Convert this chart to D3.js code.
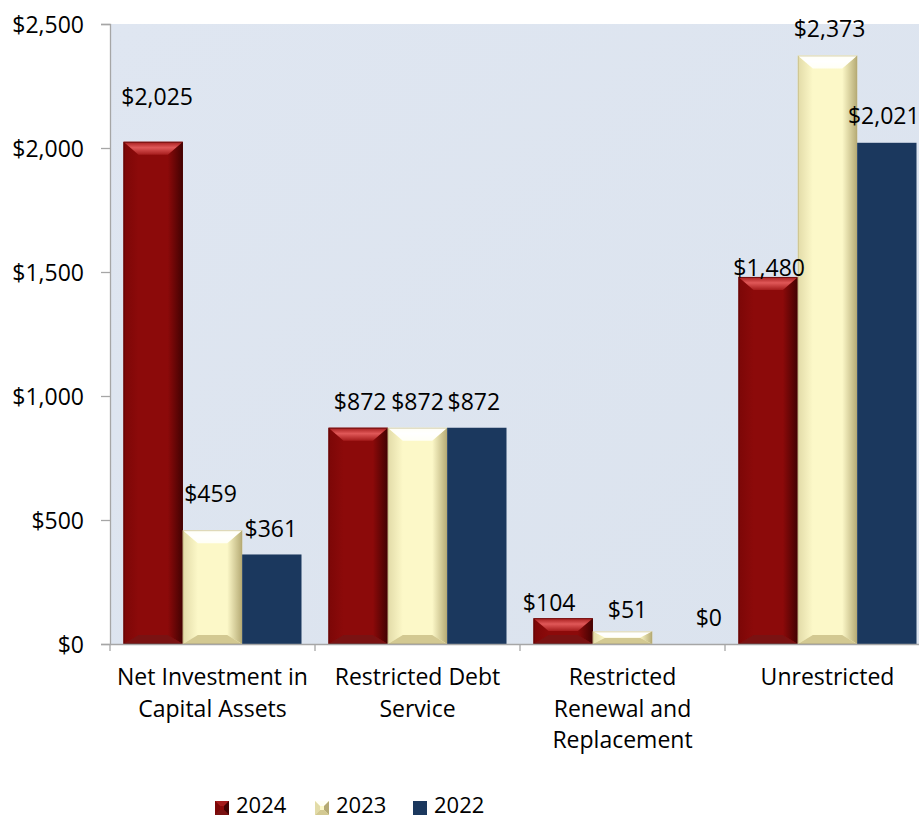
<!DOCTYPE html>
<html>
<head>
<meta charset="utf-8">
<script src="https://cdn.jsdelivr.net/npm/d3@7"></script>
<style>
  html, body { margin: 0; padding: 0; background: #ffffff; }
  svg { display: block; }
  text { font-family: "Open Sans", Lato, sans-serif; fill: #000; }
</style>
</head>
<body>
<svg id="chart" width="919" height="820"></svg>
<script>
// ---------- data ----------
const categories = [
  "Net Investment in Capital Assets",
  "Restricted Debt Service",
  "Restricted Renewal and Replacement",
  "Unrestricted"
];
const categoryLines = [
  ["Net Investment in", "Capital Assets"],
  ["Restricted Debt", "Service"],
  ["Restricted", "Renewal and", "Replacement"],
  ["Unrestricted"]
];
const years = ["2024", "2023", "2022"];
const values2024 = [2025, 872, 104, 1480];
const values2023 = [459, 872, 51, 2373];
const values2022 = [361, 872, 0, 2021];
const yTicks = [0, 500, 1000, 1500, 2000, 2500];

// label nudges (style only, px) to mimic the manually placed data labels
const labelNudge2024 = [[4, -19], [2, 0], [-14, 11], [1, 17]];
const labelNudge2023 = [[-2, -10], [0, 0], [5, 5], [2, -1]];
const labelNudge2022 = [[-1, 0], [-3, 0], [27, 0], [-3, -1]];

const seriesValues = { "2024": values2024, "2023": values2023, "2022": values2022 };
const seriesNudges = { "2024": labelNudge2024, "2023": labelNudge2023, "2022": labelNudge2022 };

// ---------- layout ----------
const svg = d3.select("#chart");
const plot = { left: 110, right: 930, top: 24, bottom: 644 };

const x0 = d3.scaleBand().domain(categories).range([plot.left, plot.right]).padding(0);
const groupPad = 13.5;
const x1 = d3.scaleBand().domain(years).range([groupPad, x0.bandwidth() - groupPad]).padding(0);
const y = d3.scaleLinear().domain([0, 2500]).range([plot.bottom, plot.top]);

const fmt = v => "$" + d3.format(",")(v);

const defs = svg.append("defs");

const bgGrad = defs.append("linearGradient").attr("id", "bgGrad")
  .attr("x1", 0).attr("y1", 0).attr("x2", 1).attr("y2", 1);
bgGrad.append("stop").attr("offset", "0%").attr("stop-color", "#dfe6f1");
bgGrad.append("stop").attr("offset", "100%").attr("stop-color", "#dbe3ee");

svg.append("rect")
  .attr("x", plot.left).attr("y", plot.top)
  .attr("width", plot.right - plot.left).attr("height", plot.bottom - plot.top)
  .attr("fill", "url(#bgGrad)");

const palettes = {
  "2024": { main: "#8c0a0a", top1: "#a51c1c", top2: "#e05858", left: "#7c0707", right: "#420202", bottom: "#7a1212", bevel: true },
  "2023": { main: "#fcf8c8", top1: "#fffff6", top2: "#ffffff", left: "#e2dba8", right: "#b5aa74", bottom: "#d3c992", bevel: true },
  "2022": { main: "#1b385e", bevel: false }
};

Object.entries(palettes).forEach(([k, p]) => {
  if (!p.bevel) return;
  const g = defs.append("linearGradient").attr("id", "top" + k)
    .attr("x1", 0).attr("y1", 0).attr("x2", 0).attr("y2", 1);
  g.append("stop").attr("offset", "0%").attr("stop-color", p.top1);
  g.append("stop").attr("offset", "45%").attr("stop-color", p.top2);
  g.append("stop").attr("offset", "100%").attr("stop-color", p.top1);
  const r = defs.append("linearGradient").attr("id", "right" + k)
    .attr("x1", 0).attr("y1", 0).attr("x2", 1).attr("y2", 0);
  r.append("stop").attr("offset", "0%").attr("stop-color", p.main);
  r.append("stop").attr("offset", "100%").attr("stop-color", p.right);
  const l = defs.append("linearGradient").attr("id", "left" + k)
    .attr("x1", 0).attr("y1", 0).attr("x2", 1).attr("y2", 0);
  l.append("stop").attr("offset", "0%").attr("stop-color", p.left);
  l.append("stop").attr("offset", "100%").attr("stop-color", p.main);
});

function drawBar(g, key, x, yTop, w, h) {
  const p = palettes[key];
  if (h <= 0) return;
  g.append("rect").attr("x", x).attr("y", yTop).attr("width", w).attr("height", h).attr("fill", p.main);
  if (!p.bevel) return;
  const bt = Math.min(13, h / 2);
  const bb = Math.min(9, h / 2);
  const bs = Math.min(15, w / 2, h / 2 + 6);
  const pts = a => a.map(q => q.join(",")).join(" ");
  g.append("polygon").attr("points", pts([[x, yTop], [x + bs, yTop + bt], [x + bs, yTop + h - bb], [x, yTop + h]]))
    .attr("fill", "url(#left" + key + ")");
  g.append("polygon").attr("points", pts([[x + w, yTop], [x + w - bs, yTop + bt], [x + w - bs, yTop + h - bb], [x + w, yTop + h]]))
    .attr("fill", "url(#right" + key + ")");
  g.append("polygon").attr("points", pts([[x, yTop + h], [x + bs, yTop + h - bb], [x + w - bs, yTop + h - bb], [x + w, yTop + h]]))
    .attr("fill", p.bottom);
  g.append("polygon").attr("points", pts([[x, yTop], [x + w, yTop], [x + w - bs, yTop + bt], [x + bs, yTop + bt]]))
    .attr("fill", "url(#top" + key + ")");
  g.append("rect").attr("x", x + 0.5).attr("y", yTop + 0.5).attr("width", w - 1).attr("height", h - 1)
    .attr("fill", "none").attr("stroke", p.right).attr("stroke-opacity", 0.5).attr("stroke-width", 1);
}

// bars
const barsG = svg.append("g");
categories.forEach((c, ci) => {
  years.forEach(yr => {
    const v = seriesValues[yr][ci];
    const bx = x0(c) + x1(yr);
    drawBar(barsG, yr, bx, y(v), x1.bandwidth(), y(0) - y(v));
  });
});

// axes
const axisColor = "#a6a6a6";
const yAxis = d3.axisLeft(y).tickValues(yTicks).tickSize(9).tickPadding(0).tickFormat(fmt);
const gy = svg.append("g").attr("transform", `translate(${plot.left},0)`).call(yAxis);
gy.select(".domain").attr("stroke", axisColor).attr("stroke-width", 1.3);
gy.selectAll(".tick line").attr("stroke", axisColor).attr("stroke-width", 1.3);
gy.selectAll(".tick text")
  .attr("x", -26).attr("dy", "0.35em")
  .style("font-size", "23px").style("font-family", "'Open Sans', Lato, sans-serif").attr("fill", "#000");

const xAxis = d3.axisBottom(x0).tickSize(0).tickFormat("");
const gx = svg.append("g").attr("transform", `translate(0,${plot.bottom})`).call(xAxis);
gx.select(".domain").attr("stroke", axisColor).attr("stroke-width", 1.3);
gx.selectAll(".tick").remove();
const sepG = svg.append("g");
categories.forEach(c => {
  sepG.append("line")
    .attr("x1", x0(c)).attr("x2", x0(c))
    .attr("y1", plot.bottom).attr("y2", plot.bottom + 7)
    .attr("stroke", axisColor).attr("stroke-width", 1.3);
});

// category labels
const catG = svg.append("g");
categories.forEach((c, ci) => {
  const cx = x0(c) + x0.bandwidth() / 2;
  categoryLines[ci].forEach((line, li) => {
    catG.append("text")
      .attr("x", cx).attr("y", 685 + li * 31.5)
      .attr("text-anchor", "middle")
      .style("font-size", "23px")
      .text(line);
  });
});

// data labels
const lblG = svg.append("g");
categories.forEach((c, ci) => {
  years.forEach(yr => {
    const v = seriesValues[yr][ci];
    const n = seriesNudges[yr][ci];
    const cx = x0(c) + x1(yr) + x1.bandwidth() / 2 + n[0];
    const cy = y(v) - 26 + n[1];
    lblG.append("text")
      .attr("x", cx).attr("y", cy).attr("dy", "0.35em")
      .attr("text-anchor", "middle")
      .style("font-size", "23px")
      .text(fmt(v));
  });
});

// legend
const legendX = { "2024": 215, "2023": 315, "2022": 413 };
const legG = svg.append("g");
years.forEach(yr => {
  const lx = legendX[yr];
  const ly = 801;
  const p = palettes[yr];
  legG.append("rect").attr("x", lx).attr("y", ly).attr("width", 14).attr("height", 14).attr("fill", p.main);
  if (p.bevel) {
    const pts = a => a.map(q => q.join(",")).join(" ");
    legG.append("polygon").attr("points", pts([[lx, ly], [lx + 14, ly], [lx + 9, ly + 5], [lx + 5, ly + 5]])).attr("fill", p.top1);
    legG.append("polygon").attr("points", pts([[lx, ly], [lx + 5, ly + 5], [lx + 5, ly + 9], [lx, ly + 14]])).attr("fill", p.left);
    legG.append("polygon").attr("points", pts([[lx + 14, ly], [lx + 9, ly + 5], [lx + 9, ly + 9], [lx + 14, ly + 14]])).attr("fill", p.right);
    legG.append("polygon").attr("points", pts([[lx, ly + 14], [lx + 5, ly + 9], [lx + 9, ly + 9], [lx + 14, ly + 14]])).attr("fill", p.bottom);
  }
  legG.append("text")
    .attr("x", lx + 21).attr("y", 813)
    .style("font-size", "22px")
    .text(yr);
});
</script>
</body>
</html>
